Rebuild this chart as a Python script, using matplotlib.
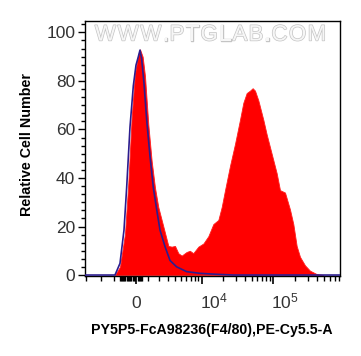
import numpy as np
import matplotlib
matplotlib.use("Agg")
import matplotlib.pyplot as plt
from matplotlib.ticker import FixedLocator, AutoMinorLocator
import matplotlib.patheffects as pe
from matplotlib.transforms import ScaledTranslation

# ---------------- data ----------------
# F4/80 stained sample (red filled histogram): fluorescence intensity vs relative count
red_x = [-1860, -1381, -936, -654, -378, -108, 162, 297, 515, 709, 993, 1289, 1598,
         1925, 2462, 3059, 3499, 3976, 4499, 5071, 6030, 6752, 7555, 8969, 10576,
         12431, 14616, 17175, 19131, 21299, 24975, 29290, 34365, 38222, 42511,
         47283, 51471, 55455, 61673, 72308, 80429, 94312, 110606, 122991, 144235,
         169082, 188040, 209106, 232506, 272581, 319534, 395167, 488565]
red_y = [0, 3.4, 17, 38, 65, 83, 91, 93, 90, 82, 62, 47, 36,
         28, 20, 12, 11.7, 12, 9, 8, 9.5, 10, 9, 11.7, 13,
         16, 21, 22.7, 28, 35, 45, 54, 64, 71, 75,
         76, 77, 76, 72, 64, 58, 50, 42, 35, 34,
         27, 21, 12, 7.5, 4, 1.8, 0.4, 0]

# Isotype control (blue outline histogram)
blue_x = [-6256, -1860, -1381, -1023, -794, -515, -243, -27, 162, 297, 433, 626, 850,
          1139, 1442, 1761, 2101, 2656, 3274, 4217, 6030, 9464, 16274, 27766, 831000]
blue_y = [0, 0, 4.8, 18.5, 36, 61, 78, 86.5, 90, 92.7, 89, 79, 64,
          49, 36, 27, 18.5, 11.7, 6, 3.4, 1.4, 0.7, 0.3, 0, 0]

x_major = [0, 1e4, 1e5]
x_major_labels = ["0", r"$10^4$", r"$10^5$"]
y_major = [0, 20, 40, 60, 80, 100]

xlabel = "PY5P5-FcA98236(F4/80),PE-Cy5.5-A"
ylabel = "Relative Cell Number"
watermark = "WWW.PTGLAB.COM"

# ---------------- scale (biexponential-like) ----------------
C = 2538.0
def fwd(v):
    return np.arcsinh(np.asarray(v, dtype=float) / C)
def inv(u):
    return C * np.sinh(np.asarray(u, dtype=float))

plt.rcParams['font.family'] = ['Liberation Sans', 'DejaVu Sans']
plt.rcParams['mathtext.fontset'] = 'custom'
plt.rcParams['mathtext.rm'] = 'Liberation Sans'
plt.rcParams['mathtext.it'] = 'Liberation Sans'

W, H = 361, 356
fig = plt.figure(figsize=(W / 100, H / 100), dpi=100)
ax = fig.add_axes([85 / W, 1 - 276 / H, 255 / W, 255 / H])
ax.set_xscale('function', functions=(fwd, inv))
ax.set_xlim(-6256, 831000)
ax.set_ylim(-0.4, 104.7)

ax.fill_between(red_x, red_y, 0, color='#ff0000', linewidth=0.6, edgecolor='#ff2020', zorder=2)
ax.plot(blue_x, blue_y, color='#2c1d8e', lw=1.2, zorder=3)

# ticks
ax.xaxis.set_major_locator(FixedLocator(x_major))
ax.set_xticklabels(x_major_labels)
minors = [-6000, -3500, -2000] + list(range(-1400, 600, 100)) + \
         list(range(1000, 10000, 1000)) + list(range(20000, 100000, 10000)) + \
         list(range(200000, 900000, 100000))
minors = [m for m in minors if m != 0]
ax.xaxis.set_minor_locator(FixedLocator(minors))
ax.yaxis.set_major_locator(FixedLocator(y_major))
ax.yaxis.set_minor_locator(AutoMinorLocator(6))

ax.tick_params(axis='x', which='major', length=6, width=1.2, direction='out',
               labelsize=12.5, labelcolor='#333333', pad=17)
ax.tick_params(axis='x', which='minor', length=3.5, width=1.0, direction='out')
ax.tick_params(axis='y', which='major', length=5, width=1.0, direction='out',
               labelsize=12.5, labelcolor='#333333', pad=2)
ax.tick_params(axis='y', which='minor', length=3, width=1.0, direction='out')
for i, lab in enumerate(ax.get_xticklabels()):
    lab.set_verticalalignment('baseline')
    if i > 0:
        lab.set_horizontalalignment('left')
        lab.set_transform(lab.get_transform() + ScaledTranslation(-2 / 100, 0, fig.dpi_scale_trans))
for s in ax.spines.values():
    s.set_linewidth(1.0)

# axis labels
fig.text(27 / W, 1 - 144 / H, ylabel, rotation=90, ha='center', va='center',
         fontsize=10.3, fontweight='bold', color='black')
fig.text(212 / W, 1 - 330 / H, xlabel, ha='center', va='center',
         fontsize=10.2, fontweight='bold', color='black')

# watermark, letters spread across the top of the plot
widths = {'W': .944, '.': .278, 'P': .667, 'T': .611, 'G': .778, 'L': .556,
          'A': .667, 'B': .667, 'C': .722, 'O': .778, 'M': .833}
ws = [widths[c] for c in watermark]
tot = sum(ws)
x0, x1 = 94, 327
pos = np.cumsum([0] + ws[:-1]) + np.array(ws) / 2
for ch, p in zip(watermark, pos):
    fig.text((x0 + (x1 - x0) * p / tot) / W, 1 - 35 / H, ch, ha='center', va='center',
             fontsize=16, color='#f6f6f6',
             path_effects=[pe.withStroke(linewidth=1.0, foreground='#c4c4c4')])

fig.savefig('out.png', dpi=100)
